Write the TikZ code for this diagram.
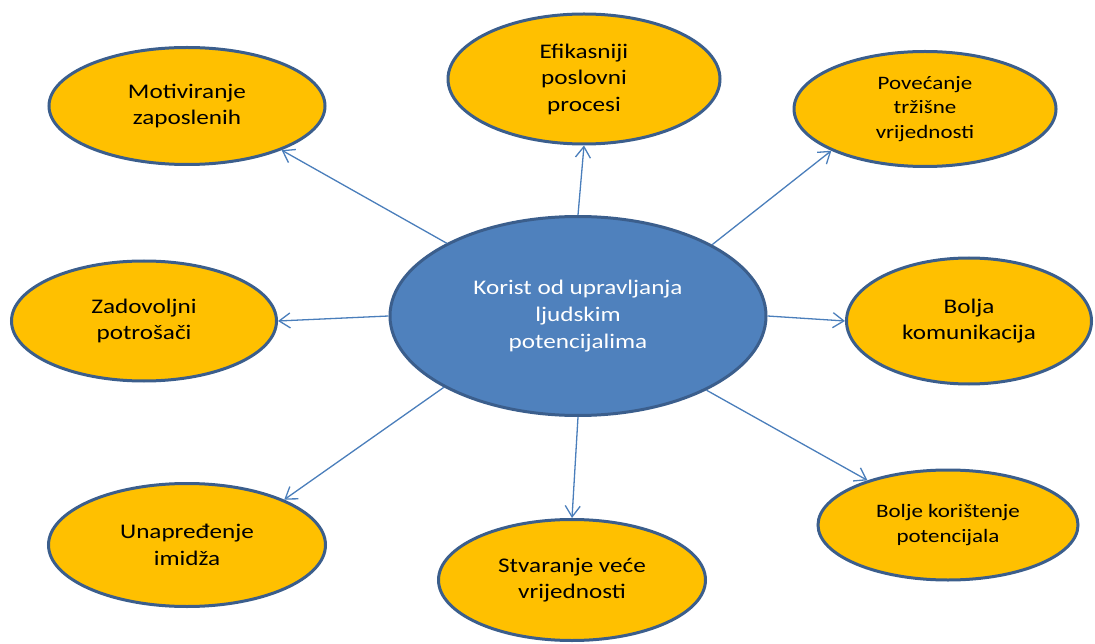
\documentclass[tikz,border=0pt]{standalone}
\usepackage{fontspec}
\setmainfont[FakeStretch=1.21]{Carlito}
\usetikzlibrary{shapes.geometric,arrows.meta}
\definecolor{gold}{HTML}{FFC000}
\definecolor{rim}{HTML}{3B5E8C}
\definecolor{hub}{HTML}{4F81BD}
\definecolor{link}{HTML}{4A7EBB}
\tikzset{
  leaf/.style={ellipse, draw=rim, line width=3pt, fill=gold, inner sep=0pt,
    align=center, text=black, font=\fontsize{20.8}{26.5}\selectfont},
  leafsmall/.style={leaf, font=\fontsize{19}{24.5}\selectfont},
  hubnode/.style={ellipse, draw=rim, line width=3pt, fill=hub, inner sep=0pt,
    align=center, text=white, font=\fontsize{20.8}{27}\selectfont},
  link/.style={draw=link, line width=1.3pt,
    -{Straight Barb[length=11pt,width=15pt,line width=1.3pt]}}
}
\begin{document}
\begin{tikzpicture}[x=1pt,y=-1pt]
\useasboundingbox (0,0) rectangle (1095,644);
\node[hubnode, minimum width=376pt, minimum height=199pt] (c) at (578,316) {Korist od upravljanja\\ljudskim\\potencijalima};
\node[leaf, minimum width=276pt, minimum height=117pt] (m) at (187,106) {Motiviranje\\zaposlenih};
\node[leaf, minimum width=272pt, minimum height=130pt] (e) at (584,79) {Efikasniji\\poslovni\\procesi};
\node[leafsmall, minimum width=262pt, minimum height=115pt] (p) at (925,109) {Povećanje\\tržišne\\vrijednosti};
\node[leaf, minimum width=265pt, minimum height=120pt] (z) at (144,321) {Zadovoljni\\potrošači};
\node[leaf, minimum width=245pt, minimum height=126pt] (b) at (969,321) {Bolja\\komunikacija};
\node[leaf, minimum width=277pt, minimum height=123pt] (u) at (187,545) {Unapređenje\\imidža};
\node[leaf, minimum width=267pt, minimum height=121pt] (s) at (572,580) {Stvaranje veće\\vrijednosti};
\node[leafsmall, minimum width=260pt, minimum height=110pt] (k) at (948,525) {Bolje korištenje\\potencijala};
\draw[link] (c.151.6) -- (m.335.8);
\draw[link] (c.90) -- (e.270);
\draw[link] (c.28.6) -- (p.204.4);
\draw[link] (c.180) -- (z.0);
\draw[link] (c.0) -- (b.180);
\draw[link] (c.208) -- (u.25.6);
\draw[link] (c.270) -- (s.90);
\draw[link] (c.330.7) -- (k.151.7);
\end{tikzpicture}
\end{document}
